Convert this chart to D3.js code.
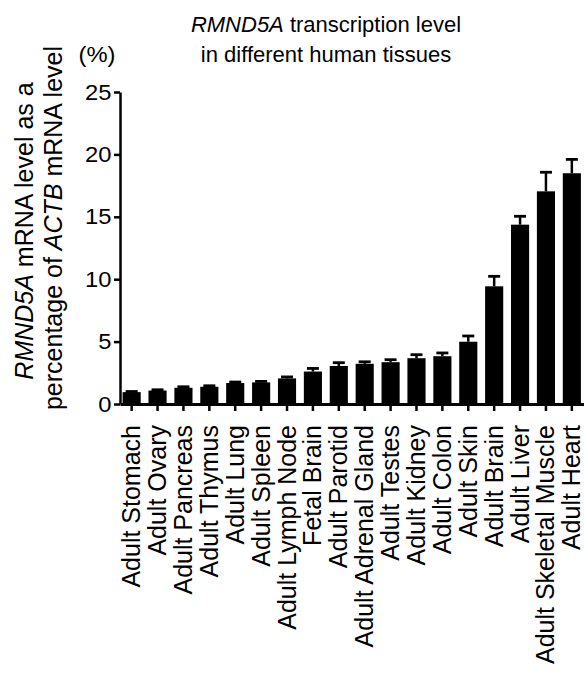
<!DOCTYPE html>
<html>
<head>
<meta charset="utf-8">
<script src="https://cdn.jsdelivr.net/npm/d3@7"></script>
<style>
  body { margin: 0; background: #fff; }
  svg { display: block; font-family: "Liberation Sans", Arial, sans-serif; }
</style>
</head>
<body>
<div id="chart"></div>
<script>
// tissues, left to right
const tissues = ["Adult Stomach", "Adult Ovary", "Adult Pancreas", "Adult Thymus", "Adult Lung",
    "Adult Spleen", "Adult Lymph Node", "Fetal Brain", "Adult Parotid", "Adult Adrenal Gland",
    "Adult Testes", "Adult Kidney", "Adult Colon", "Adult Skin", "Adult Brain", "Adult Liver",
    "Adult Skeletal Muscle", "Adult Heart"];
// RMND5A mRNA as % of ACTB
const levels = [0.95, 1.08, 1.3, 1.38, 1.68, 1.73, 2.05, 2.6, 3.05, 3.22, 3.35, 3.67, 3.83,
    4.99, 9.43, 14.37, 17.04, 18.49];
// upper error bar (SEM)
const errors = [0.05, 0.06, 0.08, 0.08, 0.08, 0.08, 0.12, 0.25, 0.26, 0.16, 0.2, 0.28, 0.26,
    0.46, 0.8, 0.67, 1.53, 1.11];
const yTicks = [0, 5, 10, 15, 20, 25];

const svgWidth = 584;
const svgHeight = 675;

const svg = d3.select("#chart")
    .append("svg")
    .attr("width", svgWidth)
    .attr("height", svgHeight);

const data = tissues.map((t, i) => ({ tissue: t, value: levels[i], err: errors[i] }));

const x = d3.scaleBand()
    .domain(tissues)
    .range([120, 583.5])
    .paddingInner(0.3)
    .paddingOuter(0.1);

const y = d3.scaleLinear()
    .domain([0, 25])
    .range([404, 92]);

// bars
svg.selectAll("rect.bar")
    .data(data)
    .enter().append("rect")
    .attr("class", "bar")
    .attr("x", d => x(d.tissue))
    .attr("y", d => y(d.value))
    .attr("width", x.bandwidth())
    .attr("height", d => y(0) - y(d.value))
    .attr("fill", "#000");

// error bars (upper only)
const eb = svg.selectAll("g.err")
    .data(data)
    .enter().append("g")
    .attr("class", "err");

eb.append("line")
    .attr("x1", d => x(d.tissue) + x.bandwidth() / 2)
    .attr("x2", d => x(d.tissue) + x.bandwidth() / 2)
    .attr("y1", d => y(d.value))
    .attr("y2", d => y(d.value + d.err))
    .attr("stroke", "#000")
    .attr("stroke-width", 2.5);

eb.append("line")
    .attr("x1", d => x(d.tissue) + x.bandwidth() / 2 - 6)
    .attr("x2", d => x(d.tissue) + x.bandwidth() / 2 + 6)
    .attr("y1", d => y(d.value + d.err))
    .attr("y2", d => y(d.value + d.err))
    .attr("stroke", "#000")
    .attr("stroke-width", 2.8);

// y axis
const yAxis = svg.append("g")
    .attr("transform", "translate(120,0)")
    .call(d3.axisLeft(y).tickValues(yTicks).tickSize(6).tickSizeOuter(0));

yAxis.select(".domain").attr("stroke-width", 2.5);
yAxis.selectAll(".tick line").attr("stroke-width", 2.5);
yAxis.selectAll(".tick text")
    .attr("font-size", 22)
    .attr("fill", "#000")
    .attr("x", -8)
    .attr("transform", "scale(1.08,1)");

// x axis
const xAxis = svg.append("g")
    .attr("transform", "translate(0," + y(0) + ")")
    .call(d3.axisBottom(x).tickSize(7).tickSizeOuter(0));

xAxis.select(".domain").attr("stroke-width", 2.8);
xAxis.selectAll(".tick line").attr("stroke-width", 2.5);
xAxis.selectAll(".tick text")
    .attr("font-size", 25)
    .attr("fill", "#000")
    .attr("text-anchor", "end")
    .attr("x", -21)
    .attr("y", 0)
    .attr("dy", "0.34em")
    .attr("transform", "rotate(-90)");

// unit label
svg.append("text")
    .attr("transform", "translate(97,62) scale(1.08,1)")
    .attr("text-anchor", "middle")
    .attr("font-size", 22)
    .text("(%)");

// y axis title, two rotated lines
const yTitle1 = svg.append("text")
    .attr("transform", "translate(33,231) rotate(-90)")
    .attr("text-anchor", "middle")
    .attr("font-size", 25);
yTitle1.append("tspan").attr("font-style", "italic").text("RMND5A");
yTitle1.append("tspan").text(" mRNA level as a");

const yTitle2 = svg.append("text")
    .attr("transform", "translate(62,228) rotate(-90)")
    .attr("text-anchor", "middle")
    .attr("font-size", 25);
yTitle2.append("tspan").text("percentage of ");
yTitle2.append("tspan").attr("font-style", "italic").text("ACTB");
yTitle2.append("tspan").text(" mRNA level");

// chart title
const t1 = svg.append("text")
    .attr("transform", "translate(326,32)")
    .attr("text-anchor", "middle")
    .attr("font-size", 22);
t1.append("tspan").attr("font-style", "italic").text("RMND5A");
t1.append("tspan").text(" transcription level");

svg.append("text")
    .attr("transform", "translate(326,62)")
    .attr("text-anchor", "middle")
    .attr("font-size", 22)
    .text("in different human tissues");
</script>
</body>
</html>
